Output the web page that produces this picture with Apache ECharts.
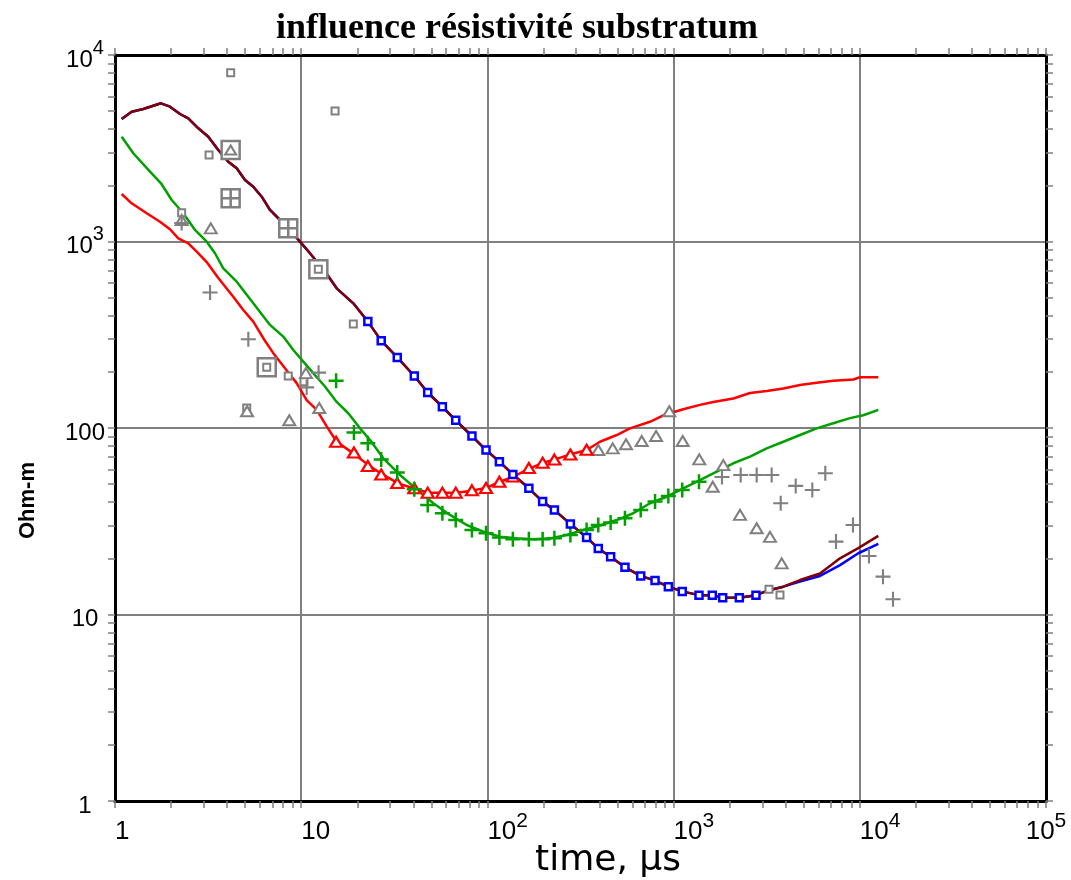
<!DOCTYPE html>
<html><head><meta charset="utf-8">
<script src="https://cdn.jsdelivr.net/npm/echarts@6/dist/echarts.min.js"></script>
<style>html,body{margin:0;padding:0;background:#fff}#c{width:1071px;height:880px}</style>
</head><body><div id="c"></div>
<script>
// ---- data (time in µs, apparent resistivity in Ohm-m) ----
const gateT = [15.4, 19.2, 22.8, 26.9, 32.8, 40.5, 47.8, 57.3, 67.6, 82.6, 98.3, 116, 137, 167, 198, 229, 279, 341, 394, 459, 548, 666, 795, 937, 1113, 1369, 1614, 1835, 2254, 2770];
const blueRho = [372, 294, 239, 190, 155, 130, 110, 90.6, 76.2, 66.0, 56.4, 47.5, 40.3, 36.3, 30.6, 25.9, 22.6, 20.4, 17.9, 16.1, 15.2, 14.1, 13.3, 12.7, 12.7, 12.3, 12.3, 12.7]; // gates 2..29
const redRho = [84.4, 73.9, 62.6, 56.3, 50.7, 47.5, 45.0, 45.0, 45.0, 46.3, 47.7, 51.5, 55.0, 61.0, 65.2, 67.7, 72.1, 76.5]; // gates 0..17
const greenRho = [179, 94.6, 82.8, 67.7, 57.7, 46.9, 38.6, 34.9, 32.1, 28.4, 27.3, 25.9, 25.3, 25.3, 25.3, 25.6, 26.7, 28.4, 30.2, 31.1, 32.8, 36.3, 40.3, 43.2, 46.5, 51.5]; // gates 0..25

const headT = [1.086, 1.229, 1.419, 1.766, 1.974, 2.234, 2.476, 2.802, 3.170, 3.587, 4.059, 4.504, 4.991, 5.530, 6.136, 6.800, 7.693, 8.708, 9.853, 11.15, 13.71, 15.51, 19.05];
const headRho = [4538, 4966, 5134, 5508, 5282, 4827, 4577, 4046, 3647, 3095, 2679, 2469, 2137, 1967, 1739, 1476, 1304, 1153, 998, 865, 670, 561, 466];
const maroonTailT = [3253, 3884, 4774, 6112, 7830, 9815, 12570];
const maroonTailRho = [13.5, 14.1, 15.3, 16.6, 20.0, 22.7, 26.4];
const blueTailT = [3253, 3884, 4774, 6112, 7830, 9815, 12570];
const blueTailRho = [13.5, 14.1, 15.0, 16.1, 18.4, 21.3, 23.9];

const greenLineT = [1.086, 1.254, 1.542, 1.766, 2.017, 2.327, 2.689, 3.108, 3.444, 3.815, 4.504, 5.530, 6.800, 8.015, 9.071, 10.26, 11.86, 13.42, 15.51, 17.90, 20.70, 23.42, 27.60, 33.94, 41.72, 51.22, 62.96, 77.42, 95.06, 116.9, 143.7, 176.4, 216.9, 266.7, 327.3, 402.5, 494.9, 607.6, 746.9, 918.3, 1127, 1386, 1704, 2093, 2573, 3162, 3884, 4774, 5868, 7206, 8859, 10443, 12573];
const greenLineRho = [3647, 2972, 2367, 2052, 1669, 1417, 1153, 998, 865, 718, 609, 466, 357, 309, 262, 227, 192, 167, 138, 120, 99.6, 86.2, 68.8, 56.0, 46.9, 39.5, 34.2, 30.2, 27.8, 26.1, 25.6, 25.3, 25.6, 26.7, 28.4, 30.0, 32.1, 34.9, 39.5, 42.8, 47.5, 52.6, 58.3, 64.7, 70.2, 77.8, 84.4, 91.7, 99.6, 106, 113, 117, 125];

const redLineT = [1.086, 1.229, 1.480, 1.744, 1.974, 2.188, 2.476, 2.747, 3.108, 3.587, 4.318, 4.887, 5.530, 6.258, 7.084, 8.185, 9.458, 10.70, 12.12, 13.71, 15.51, 19.05, 22.93, 27.06, 33.23, 40.00, 48.15, 57.98, 68.41, 82.36, 99.13, 116.9, 137.8, 169.3, 199.6, 230.7, 283.6, 341.5, 402.5, 494.9, 583.2, 746.9, 880.6, 1127, 1386, 1634, 2093, 2573, 3162, 3884, 4774, 5868, 7206, 9229, 10025, 12573];
const redLineRho = [1797, 1602, 1417, 1277, 1163, 1040, 978, 882, 776, 637, 506, 429, 372, 303, 252, 209, 174, 141, 125, 102, 84.4, 73.1, 63.3, 56.7, 50.5, 47.5, 45.0, 45.0, 45.0, 46.1, 47.9, 51.5, 54.8, 60.8, 65.2, 67.9, 72.5, 76.2, 84.4, 91.7, 99.6, 108, 117, 126, 133, 138, 144, 154, 158, 163, 170, 175, 179, 182, 187, 187];

const graySqT = [4.18, 15.2, 3.20, 2.28, 5.10, 8.52, 10.35, 19.05, 3253, 3727];
const graySqRho = [8036, 5008, 2910, 1427, 128, 190, 177, 361, 13.65, 12.72];
const grayTriT = [2.28, 3.27, 5.12, 8.63, 10.6, 12.5, 394, 471, 555, 674, 805, 948, 1119, 1374, 1622, 1849, 2273, 2794, 3293, 3806];
const grayTriRho = [1304, 1177, 123, 110, 197, 128, 76.2, 77.8, 81.8, 85.2, 90.6, 123, 85.2, 67.9, 48.4, 63.3, 34.2, 29.0, 26.1, 18.8];
const grayPlusT = [2.28, 3.24, 5.20, 10.7, 12.4, 1819, 2293, 2794, 3363, 3761, 4527, 5558, 6527, 7450, 9194, 11204, 13322, 15077];
const grayPlusRho = [1257, 533, 299, 165, 198, 54.6, 56.0, 56.0, 56.0, 39.5, 48.9, 46.5, 57.2, 24.6, 30.2, 20.6, 15.95, 12.07];
const boxT = [4.18, 4.18, 8.52, 12.36, 6.53];
const boxRho = [3095, 1705, 1177, 710, 212];
const boxTriT = [4.18], boxTriRho = [3095];
const boxPlusT = [4.18, 8.52], boxPlusRho = [1705, 1177];
const boxSqT = [12.36, 6.53], boxSqRho = [710, 212];

// tick positions: mantissas 1..9 of each decade
const tickMantissas = [1, 2, 3, 4, 5, 6, 7, 8, 9];
const xDecades = [1, 10, 100, 1000, 10000];
const yDecades = [1, 10, 100, 1000];

// ---- helpers ----
const pairs = (t, r) => r.map((v, i) => [t[i], v]);
const GRAY = '#808080';
const PLUS = 'path://M0,6H14V8H0Z M6,0H8V14H6Z';
const PLUS_BOLD = 'path://M0,6.25H15V8.75H0Z M6.25,0H8.75V15H6.25Z';
const ticksFor = (decs) => decs.flatMap(d => tickMantissas.map(m => m * d)).concat([decs[decs.length - 1] * 10]);
const xTicks = ticksFor(xDecades);
const yTicks = ticksFor(yDecades);

const blueLine = pairs(headT.concat(gateT.slice(2), blueTailT), headRho.concat(blueRho, blueTailRho));
const maroonLine = pairs(headT.concat(gateT.slice(2), maroonTailT), headRho.concat(blueRho, maroonTailRho));

function xFmt(v) {
  const e = Math.round(Math.log10(v));
  if (e === 0) return '{b|1}';
  if (e === 1) return '{b|10}';
  return '{b|10}{s|' + e + '}';
}
function yFmt(v) {
  const e = Math.round(Math.log10(v));
  if (e <= 2) return '{b|' + String(Math.round(v)) + '}';
  return '{b|10}{s|' + e + '}';
}
const tickStyle = { color: GRAY, width: 1.5 };
const axLine = { show: true, onZero: false, lineStyle: { color: '#000', width: 3 } };

// main axes: labels + decade grid lines
const xMain = {
  type: 'log', logBase: 10, min: 1, max: 100000, position: 'bottom',
  axisLine: axLine, axisTick: { show: false }, minorTick: { show: false },
  splitLine: { show: true, lineStyle: { color: GRAY, width: 2 } },
  axisLabel: {
    show: true, formatter: xFmt, align: 'left', margin: 10, alignMaxLabel: 'center',
    rich: {
      b: { fontFamily: 'Liberation Sans', fontSize: 26, color: '#000', lineHeight: 34, verticalAlign: 'bottom' },
      s: { fontFamily: 'Liberation Sans', fontSize: 21, color: '#000', lineHeight: 34, verticalAlign: 'top' }
    }
  }
};
const yMain = {
  type: 'log', logBase: 10, min: 1, max: 10000, position: 'left',
  axisLine: axLine, axisTick: { show: false }, minorTick: { show: false },
  splitLine: { show: true, lineStyle: { color: GRAY, width: 2 } },
  axisLabel: {
    show: true, formatter: yFmt, align: 'center', margin: 30,
    rich: {
      b: { fontFamily: 'Liberation Sans', fontSize: 24, color: '#000', lineHeight: 34, verticalAlign: 'bottom' },
      s: { fontFamily: 'Liberation Sans', fontSize: 20, color: '#000', lineHeight: 34, verticalAlign: 'top' }
    }
  }
};
// frame axes: tick marks at 1..9 x decade, outward
function frameAx(kind, pos) {
  const isX = kind === 'x';
  return {
    type: 'log', logBase: 10, min: 1, max: isX ? 100000 : 10000, position: pos,
    axisLine: axLine,
    axisTick: { show: true, length: 7, customValues: isX ? xTicks : yTicks, lineStyle: tickStyle },
    minorTick: { show: false }, splitLine: { show: false }, axisLabel: { show: false }
  };
}
function lineS(name, data, color, z) {
  return { name, type: 'line', data, showSymbol: false, symbol: 'none', z,
    lineStyle: { color, width: 2.5 }, itemStyle: { color }, animation: false };
}
function scat(name, data, symbol, size, fill, stroke, bw, z) {
  return { name, type: 'scatter', data, symbol, symbolSize: size, z,
    itemStyle: { color: fill, borderColor: stroke, borderWidth: bw, opacity: 1 }, animation: false };
}

const chart = echarts.init(document.getElementById('c'), null, { renderer: 'canvas' });
chart.setOption({
  backgroundColor: '#fff',
  animation: false,
  title: {
    text: 'influence résistivité substratum', left: 512, top: 6, textAlign: 'center',
    textStyle: { fontFamily: 'Liberation Serif', fontWeight: 'bold', fontSize: 36, color: '#000' }
  },
  grid: { left: 115, right: 25, top: 55, bottom: 79, containLabel: false },
  xAxis: [xMain, frameAx('x', 'top'), frameAx('x', 'bottom')],
  yAxis: [yMain, frameAx('y', 'right'), frameAx('y', 'left')],
  graphic: [
    { type: 'text', left: 17, top: 462, rotation: Math.PI / 2, style: { text: 'Ohm-m', font: 'bold 22px "Liberation Sans"', fill: '#000' } },
    { type: 'text', x: 608, y: 861, style: { text: 'time, μs', font: '36px "DejaVu Sans"', fill: '#000', align: 'center', verticalAlign: 'middle' } }
  ],
  series: [
    lineS('blue model', blueLine, '#0000ff', 2),
    lineS('maroon model', maroonLine, '#7f0000', 3),
    lineS('green model', pairs(greenLineT, greenLineRho), '#00a000', 3),
    lineS('red model', pairs(redLineT, redLineRho), '#ff0000', 3),
    scat('gray squares', pairs(graySqT, graySqRho), 'rect', 7, '#fff', GRAY, 2, 5),
    scat('gray triangles', pairs(grayTriT, grayTriRho), 'triangle', [12, 10], '#fff', GRAY, 2, 5),
    scat('gray plus', pairs(grayPlusT, grayPlusRho), PLUS, 15, GRAY, GRAY, 0, 5),
    scat('boxes', pairs(boxT, boxRho), 'rect', 18, '#fff', GRAY, 2.5, 6),
    scat('box tri', pairs(boxTriT, boxTriRho), 'triangle', [11, 9], '#fff', GRAY, 2, 7),
    scat('box plus', pairs(boxPlusT, boxPlusRho), PLUS, 18, GRAY, GRAY, 0, 7),
    scat('box sq', pairs(boxSqT, boxSqRho), 'rect', 7, '#fff', GRAY, 2, 7),
    scat('red triangles', pairs(gateT.slice(0, 18), redRho), 'triangle', [12, 10], '#fff', '#ff0000', 2.2, 8),
    scat('green plus', pairs(gateT.slice(0, 26), greenRho), PLUS_BOLD, 15, '#00a000', '#00a000', 0, 8),
    scat('blue squares', pairs(gateT.slice(2), blueRho), 'rect', 7, '#fff', '#0000ff', 2.5, 9)
  ]
});
</script>
</body></html>
